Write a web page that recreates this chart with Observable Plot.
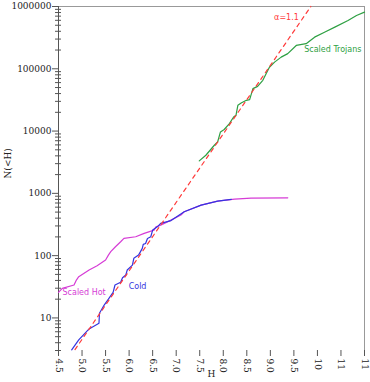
<!DOCTYPE html>
<html><head><meta charset="utf-8">
<script src="https://cdn.jsdelivr.net/npm/d3@7"></script>
<script src="https://cdn.jsdelivr.net/npm/@observablehq/plot@0.6"></script>
<style>html,body{margin:0;padding:0;background:#fff}</style>
</head><body><div id="chart"></div>
<script>
const trojanH = [7.49,7.63,7.81,7.88,7.94,8.02,8.13,8.22,8.27,8.31,8.38,8.49,8.56,8.63,8.73,8.84,8.91,8.98,9.09,9.23,9.37,9.55,9.76,9.94,10.15,10.37,10.65,10.83,11.0];
const trojanN = [3320,4090,5920,6680,9680,10600,13200,16800,17900,25900,28200,31200,32000,48000,52200,65200,83400,106000,128000,154000,175000,237000,253000,322000,387000,466000,597000,718000,811000];
const hotH = [4.5,4.58,4.83,4.88,4.93,5.15,5.32,5.50,5.56,5.61,5.71,5.82,5.89,6.14,6.32,6.53,6.57,6.67,6.89,7.10,7.17,7.53,7.88,8.24,8.59,9.37];
const hotN = [25.8,29.9,33.8,40.6,45.9,58.8,68.9,85,102,116,139,167,189,201,228,257,290,309,372,448,506,647,750,807,838,847];
const coldH = [4.78,4.93,5.15,5.36,5.37,5.47,5.56,5.66,5.70,5.82,5.86,5.93,5.96,6.07,6.10,6.20,6.28,6.30,6.35,6.39,6.46,6.50,6.60,6.67,6.89,7.17,7.53,7.88,8.17];
const coldN = [3.07,4.43,6.66,8.2,11.9,16.1,20,25.8,33.8,37.3,44.3,48.9,58.8,70.6,90.5,102,131,152,157,189,201,257,290,330,365,506,647,750,800];
const fitH = [4.85, 9.86];
const fitN = [3.1, 1000000];

const xTicks = [4.5,5.0,5.5,6.0,6.5,7.0,7.5,8.0,8.5,9.0,9.5,10.0,10.5,11.0];
const xTickLabels = ["4.5","5.0","5.5","6.0","6.5","7.0","7.5","8.0","8.5","9.0","9.5","10","11","11"];
const yTicks = [10,100,1000,10000,100000,1000000];
const yTickLabels = ["10","100","1000","10000","100000","1000000"];
const minorMultipliers = [2,3,4,5,6,7,8,9];
const minorDecades = [1,10,100,1000,10000,100000];

const labelText = ["α=1.1","Scaled Trojans","Scaled Hot","Cold"];
const labelH = [9.08, 9.72, 4.585, 5.99];
const labelN = [665000, 205000, 26.1, 32.6];
const labelColor = ["#ff3a3a","#2ea043","#d63cd6","#3434e0"];

const toRows = (hs, ns) => hs.map((h, i) => ({H: h, N: ns[i]}));
const trojans = toRows(trojanH, trojanN);
const hot = toRows(hotH, hotN);
const cold = toRows(coldH, coldN);
const fit = toRows(fitH, fitN);
const labels = labelText.map((t, i) => ({t, H: labelH[i], N: labelN[i], c: labelColor[i]}));
const yMinor = minorDecades.flatMap(d => minorMultipliers.map(m => m * d)).filter(v => v >= 3 && v < 1000000);

const chart = Plot.plot({
  width: 370,
  height: 382,
  marginLeft: 58,
  marginRight: 6,
  marginTop: 6,
  marginBottom: 32,
  style: {fontFamily: "DejaVu Serif", fontSize: "9px", color: "#222", background: "#fff"},
  x: {domain: [4.5, 11]},
  y: {type: "log", domain: [3, 1000000]},
  marks: [
    Plot.frame({anchor: "top", stroke: "#999"}),
    Plot.frame({anchor: "right", stroke: "#999"}),
    Plot.frame({anchor: "left", stroke: "#555"}),
    Plot.axisY(yMinor, {anchor: "left", tickSize: 6, dx: 3, fill: "none", stroke: "#555", label: null}),
    Plot.axisY(yTicks, {anchor: "left", tickSize: 6, tickPadding: 1, stroke: "#555", tickFormat: d => yTickLabels[yTicks.indexOf(d)], label: null}),
    Plot.axisX(xTicks, {anchor: "bottom", tickSize: 6, tickPadding: 2, tickRotate: 90, stroke: "#555", tickFormat: d => xTickLabels[xTicks.indexOf(d)], label: null}),
    Plot.text(["N(<H)"], {frameAnchor: "left", dx: -50, rotate: -90, fontSize: 9}),
    Plot.text(["H"], {frameAnchor: "bottom", dy: 26, fontSize: 9}),
    Plot.line(hot, {x: "H", y: "N", stroke: "#d63cd6", strokeWidth: 1.2}),
    Plot.line(cold, {x: "H", y: "N", stroke: "#3434e0", strokeWidth: 1.2}),
    Plot.line(trojans, {x: "H", y: "N", stroke: "#2ea043", strokeWidth: 1.2}),
    Plot.line(fit, {x: "H", y: "N", stroke: "#ff3a3a", strokeWidth: 1.2, strokeDasharray: "4,4"}),
    Plot.text(labels, {x: "H", y: "N", text: "t", fill: "c", textAnchor: "start", fontFamily: "DejaVu Sans", fontSize: 8})
  ]
});
document.getElementById("chart").appendChild(chart);
</script>
</body></html>
